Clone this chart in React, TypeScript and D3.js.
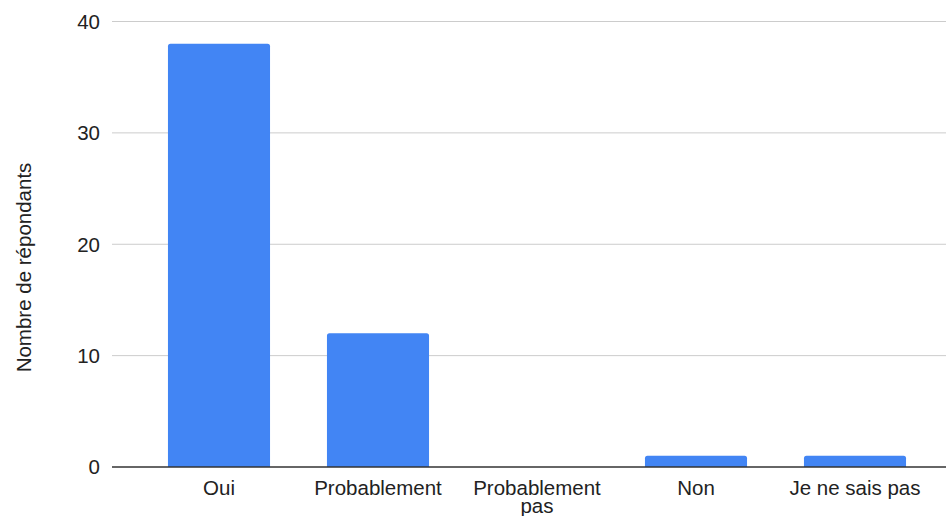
import React from "react";
import * as d3 from "d3";

const categories = ["Oui", "Probablement", "Probablement pas", "Non", "Je ne sais pas"];
const categoryLines = [["Oui"], ["Probablement"], ["Probablement", "pas"], ["Non"], ["Je ne sais pas"]];
const values = [38, 12, 0, 1, 1];
const yTicks = [0, 10, 20, 30, 40];
const yTitle = "Nombre de répondants";

const W = 946;
const H = 516;
const plotLeft = 112;
const plotRight = 946;
const FONT = "'Liberation Sans', Arial, sans-serif";
const FS = 20.5;

export default function App() {
  const x = d3.scaleBand<string>().domain(categories).range([139.5, 934.5]).paddingInner(0.358).paddingOuter(0.179);
  const y = d3.scaleLinear().domain([0, 40]).range([467, 21.5]);
  const r = 2.5;

  return (
    <svg width={W} height={H} style={{ position: "absolute", left: 0, top: 0, background: "#fff" }} fontFamily={FONT}>
      {yTicks.map((t) => (
        <g key={t}>
          {t !== 0 && (
            <line x1={plotLeft} x2={plotRight} y1={y(t)} y2={y(t)} stroke="#cccccc" strokeWidth={1} />
          )}
          <text x={100} y={y(t)} dy="0.36em" textAnchor="end" fontSize={FS} fill="#222">
            {t}
          </text>
        </g>
      ))}
      {categories.map((c, i) => {
        const v = values[i];
        if (v <= 0) return null;
        const x0 = x(c)!;
        const w = x.bandwidth();
        const yt = y(v);
        const yb = y(0);
        const path = `M${x0},${yb} L${x0},${yt + r} Q${x0},${yt} ${x0 + r},${yt} L${x0 + w - r},${yt} Q${x0 + w},${yt} ${x0 + w},${yt + r} L${x0 + w},${yb} Z`;
        return <path key={c} d={path} fill="#4285f4" />;
      })}
      <line x1={plotLeft} x2={plotRight} y1={y(0)} y2={y(0)} stroke="#333333" strokeWidth={1.3} />
      {categories.map((c, i) => (
        <text key={c} x={x(c)! + x.bandwidth() / 2} y={494.5} textAnchor="middle" fontSize={FS} fill="#222">
          {categoryLines[i].map((ln, j) => (
            <tspan key={j} x={x(c)! + x.bandwidth() / 2} dy={j === 0 ? 0 : 18.6}>
              {ln}
            </tspan>
          ))}
        </text>
      ))}
      <text
        transform={`translate(31,267.5) rotate(-90)`}
        textAnchor="middle"
        fontSize={FS}
        fill="#222"
      >
        {yTitle}
      </text>
    </svg>
  );
}
